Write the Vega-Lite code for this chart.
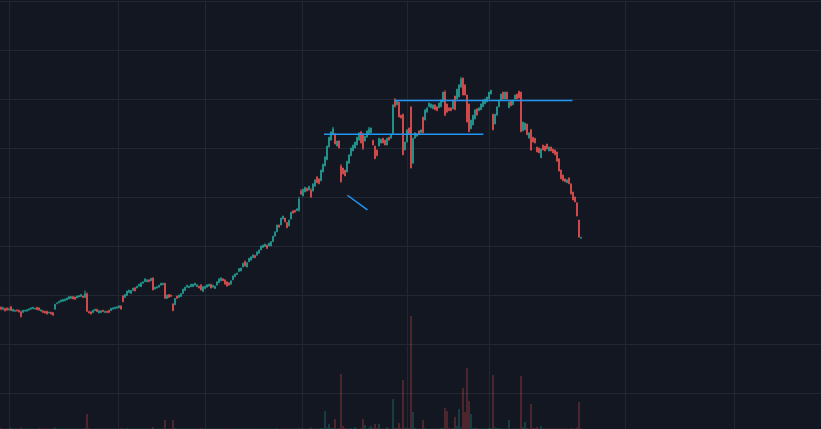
{
  "$schema": "https://vega.github.io/schema/vega-lite/v6.json",
  "width": 821,
  "height": 429,
  "autosize": {"type": "fit", "contains": "padding"},
  "padding": 0,
  "background": "#131722",
  "config": {
    "view": {"stroke": null},
    "scale": {"continuousPadding": 0},
    "axis": {"gridColor": "#232733", "gridWidth": 1, "labels": false, "ticks": false, "domain": false, "title": null}
  },
  "datasets": {
    "candles": [
      {"i":0,"o":27.5,"h":27.7,"l":26.9,"c":27.1,"v":2},
      {"i":1,"o":27.1,"h":27.6,"l":26.9,"c":27.4,"v":1},
      {"i":2,"o":27.2,"h":27.4,"l":26.6,"c":26.8,"v":1},
      {"i":3,"o":27.3,"h":27.5,"l":26.8,"c":26.9,"v":1},
      {"i":4,"o":27.0,"h":27.4,"l":26.8,"c":27.2,"v":1},
      {"i":5,"o":27.6,"h":27.8,"l":26.7,"c":26.8,"v":2},
      {"i":6,"o":26.7,"h":27.2,"l":26.6,"c":27.1,"v":1},
      {"i":7,"o":26.7,"h":27.0,"l":26.5,"c":26.9,"v":1},
      {"i":8,"o":26.9,"h":27.1,"l":26.6,"c":26.7,"v":1},
      {"i":9,"o":26.9,"h":27.0,"l":26.4,"c":26.6,"v":1},
      {"i":10,"o":26.6,"h":26.8,"l":25.4,"c":25.6,"v":3},
      {"i":11,"o":26.5,"h":27.0,"l":26.3,"c":26.9,"v":1},
      {"i":12,"o":26.7,"h":27.0,"l":26.6,"c":26.9,"v":1},
      {"i":13,"o":26.7,"h":27.1,"l":26.6,"c":27.0,"v":1},
      {"i":14,"o":26.9,"h":27.3,"l":26.8,"c":27.2,"v":1},
      {"i":15,"o":27.1,"h":27.5,"l":27.0,"c":27.4,"v":1},
      {"i":16,"o":27.2,"h":27.6,"l":27.1,"c":27.5,"v":1},
      {"i":17,"o":27.1,"h":27.4,"l":27.0,"c":27.3,"v":1},
      {"i":18,"o":27.5,"h":27.6,"l":26.9,"c":27.0,"v":1},
      {"i":19,"o":27.4,"h":27.5,"l":26.8,"c":26.9,"v":2},
      {"i":20,"o":26.7,"h":27.1,"l":26.6,"c":27.0,"v":1},
      {"i":21,"o":26.8,"h":26.9,"l":26.3,"c":26.4,"v":1},
      {"i":22,"o":26.7,"h":26.8,"l":26.2,"c":26.3,"v":1},
      {"i":23,"o":26.7,"h":26.8,"l":26.0,"c":26.1,"v":1},
      {"i":24,"o":26.3,"h":26.6,"l":26.2,"c":26.5,"v":1},
      {"i":25,"o":26.5,"h":26.6,"l":26.0,"c":26.1,"v":1},
      {"i":26,"o":26.4,"h":26.5,"l":25.7,"c":25.9,"v":2},
      {"i":27,"o":27.1,"h":28.2,"l":27.0,"c":28.1,"v":3},
      {"i":28,"o":28.2,"h":28.5,"l":28.1,"c":28.4,"v":1},
      {"i":29,"o":28.4,"h":28.8,"l":28.3,"c":28.7,"v":1},
      {"i":30,"o":28.6,"h":29.1,"l":28.5,"c":29.0,"v":1},
      {"i":31,"o":28.7,"h":29.2,"l":28.6,"c":29.1,"v":1},
      {"i":32,"o":28.8,"h":29.3,"l":28.7,"c":29.2,"v":1},
      {"i":33,"o":29.0,"h":29.5,"l":28.9,"c":29.4,"v":1},
      {"i":34,"o":29.2,"h":29.8,"l":29.1,"c":29.7,"v":1},
      {"i":35,"o":29.3,"h":29.8,"l":29.2,"c":29.7,"v":1},
      {"i":36,"o":29.7,"h":29.8,"l":29.1,"c":29.2,"v":1},
      {"i":37,"o":29.6,"h":29.7,"l":29.0,"c":29.1,"v":1},
      {"i":38,"o":29.4,"h":29.9,"l":29.3,"c":29.8,"v":1},
      {"i":39,"o":29.6,"h":30.0,"l":29.5,"c":29.9,"v":1},
      {"i":40,"o":29.7,"h":30.2,"l":29.6,"c":30.1,"v":1},
      {"i":41,"o":29.8,"h":29.9,"l":29.4,"c":29.5,"v":1},
      {"i":42,"o":29.5,"h":30.9,"l":29.4,"c":30.3,"v":2},
      {"i":43,"o":30.3,"h":30.5,"l":26.5,"c":26.7,"v":30},
      {"i":44,"o":26.6,"h":26.8,"l":26.2,"c":26.3,"v":2},
      {"i":45,"o":26.6,"h":26.7,"l":26.0,"c":26.1,"v":1},
      {"i":46,"o":26.4,"h":27.0,"l":26.3,"c":26.9,"v":1},
      {"i":47,"o":26.8,"h":27.2,"l":26.7,"c":27.1,"v":1},
      {"i":48,"o":27.1,"h":27.2,"l":26.5,"c":26.6,"v":1},
      {"i":49,"o":26.3,"h":26.9,"l":26.2,"c":26.8,"v":1},
      {"i":50,"o":26.4,"h":26.9,"l":26.3,"c":26.8,"v":1},
      {"i":51,"o":26.9,"h":27.0,"l":26.5,"c":26.6,"v":1},
      {"i":52,"o":26.4,"h":26.8,"l":26.3,"c":26.7,"v":1},
      {"i":53,"o":26.7,"h":26.8,"l":26.3,"c":26.4,"v":1},
      {"i":54,"o":26.9,"h":27.0,"l":26.3,"c":26.4,"v":1},
      {"i":55,"o":26.8,"h":27.4,"l":26.7,"c":27.3,"v":1},
      {"i":56,"o":27.1,"h":27.5,"l":27.0,"c":27.4,"v":1},
      {"i":57,"o":27.2,"h":27.6,"l":27.1,"c":27.5,"v":1},
      {"i":58,"o":27.3,"h":27.7,"l":27.2,"c":27.6,"v":1},
      {"i":59,"o":27.4,"h":27.9,"l":27.3,"c":27.8,"v":1},
      {"i":60,"o":27.8,"h":27.9,"l":27.0,"c":27.1,"v":2},
      {"i":61,"o":29.8,"h":30.0,"l":28.5,"c":28.6,"v":2},
      {"i":62,"o":29.5,"h":30.2,"l":29.4,"c":30.1,"v":1},
      {"i":63,"o":29.9,"h":30.9,"l":29.8,"c":30.8,"v":2},
      {"i":64,"o":30.5,"h":31.1,"l":30.4,"c":31.0,"v":1},
      {"i":65,"o":30.3,"h":31.0,"l":30.2,"c":30.9,"v":1},
      {"i":66,"o":30.9,"h":31.5,"l":30.8,"c":31.4,"v":1},
      {"i":67,"o":31.5,"h":31.6,"l":30.7,"c":30.8,"v":1},
      {"i":68,"o":31.4,"h":31.9,"l":31.3,"c":31.8,"v":1},
      {"i":69,"o":31.8,"h":32.3,"l":31.7,"c":32.2,"v":1},
      {"i":70,"o":31.7,"h":32.6,"l":31.6,"c":32.5,"v":1},
      {"i":71,"o":32.4,"h":32.8,"l":32.3,"c":32.7,"v":1},
      {"i":72,"o":32.7,"h":33.4,"l":32.6,"c":33.3,"v":1},
      {"i":73,"o":32.7,"h":33.2,"l":32.6,"c":33.1,"v":1},
      {"i":74,"o":33.1,"h":33.2,"l":32.6,"c":32.7,"v":1},
      {"i":75,"o":32.9,"h":33.5,"l":32.8,"c":33.4,"v":1},
      {"i":76,"o":33.5,"h":33.6,"l":30.9,"c":31.0,"v":4},
      {"i":77,"o":31.2,"h":31.7,"l":31.1,"c":31.6,"v":1},
      {"i":78,"o":31.4,"h":31.8,"l":31.3,"c":31.7,"v":1},
      {"i":79,"o":31.6,"h":32.1,"l":31.5,"c":32.0,"v":1},
      {"i":80,"o":32.0,"h":32.5,"l":31.9,"c":32.4,"v":1},
      {"i":81,"o":32.1,"h":32.5,"l":32.0,"c":32.4,"v":1},
      {"i":82,"o":32.4,"h":32.5,"l":29.2,"c":29.3,"v":18},
      {"i":83,"o":29.3,"h":30.1,"l":29.2,"c":30.0,"v":1},
      {"i":84,"o":30.1,"h":30.2,"l":29.4,"c":29.5,"v":1},
      {"i":85,"o":30.0,"h":30.1,"l":29.6,"c":29.7,"v":1},
      {"i":86,"o":28.2,"h":28.3,"l":26.7,"c":26.8,"v":18},
      {"i":87,"o":28.0,"h":29.4,"l":27.9,"c":29.3,"v":2},
      {"i":88,"o":29.8,"h":29.9,"l":29.2,"c":29.3,"v":1},
      {"i":89,"o":29.5,"h":30.1,"l":29.4,"c":30.0,"v":1},
      {"i":90,"o":29.7,"h":30.4,"l":29.6,"c":30.3,"v":1},
      {"i":91,"o":30.3,"h":31.3,"l":30.2,"c":31.2,"v":1},
      {"i":92,"o":30.9,"h":31.7,"l":30.8,"c":31.6,"v":1},
      {"i":93,"o":31.6,"h":32.1,"l":31.5,"c":32.0,"v":1},
      {"i":94,"o":31.5,"h":31.9,"l":31.4,"c":31.8,"v":1},
      {"i":95,"o":31.7,"h":32.3,"l":31.6,"c":32.2,"v":1},
      {"i":96,"o":31.7,"h":32.3,"l":31.6,"c":32.2,"v":1},
      {"i":97,"o":32.0,"h":32.5,"l":31.9,"c":32.4,"v":1},
      {"i":98,"o":31.7,"h":32.2,"l":31.6,"c":32.1,"v":1},
      {"i":99,"o":31.8,"h":31.9,"l":31.3,"c":31.4,"v":1},
      {"i":100,"o":32.1,"h":32.2,"l":30.9,"c":31.0,"v":2},
      {"i":101,"o":30.7,"h":31.8,"l":30.6,"c":31.7,"v":1},
      {"i":102,"o":31.3,"h":31.9,"l":31.2,"c":31.8,"v":1},
      {"i":103,"o":31.6,"h":32.2,"l":31.5,"c":32.1,"v":1},
      {"i":104,"o":31.8,"h":32.3,"l":31.7,"c":32.2,"v":1},
      {"i":105,"o":32.2,"h":32.3,"l":31.3,"c":31.4,"v":1},
      {"i":106,"o":31.6,"h":32.1,"l":31.5,"c":32.0,"v":1},
      {"i":107,"o":31.3,"h":31.9,"l":31.2,"c":31.8,"v":1},
      {"i":108,"o":32.0,"h":32.8,"l":31.9,"c":32.7,"v":1},
      {"i":109,"o":32.5,"h":33.4,"l":32.4,"c":33.3,"v":1},
      {"i":110,"o":32.9,"h":33.6,"l":32.8,"c":33.5,"v":1},
      {"i":111,"o":33.3,"h":33.4,"l":32.8,"c":32.9,"v":1},
      {"i":112,"o":33.1,"h":33.2,"l":32.1,"c":32.2,"v":1},
      {"i":113,"o":32.7,"h":32.8,"l":31.7,"c":31.8,"v":1},
      {"i":114,"o":32.5,"h":32.6,"l":31.9,"c":32.0,"v":1},
      {"i":115,"o":32.2,"h":33.0,"l":32.1,"c":32.9,"v":1},
      {"i":116,"o":33.1,"h":34.0,"l":33.0,"c":33.9,"v":1},
      {"i":117,"o":33.7,"h":34.4,"l":33.6,"c":34.3,"v":1},
      {"i":118,"o":34.2,"h":34.6,"l":34.1,"c":34.5,"v":1},
      {"i":119,"o":34.8,"h":35.5,"l":34.7,"c":35.4,"v":1},
      {"i":120,"o":34.9,"h":35.6,"l":34.8,"c":35.5,"v":1},
      {"i":121,"o":35.7,"h":36.6,"l":35.6,"c":36.5,"v":1},
      {"i":122,"o":36.9,"h":37.0,"l":35.8,"c":35.9,"v":1},
      {"i":123,"o":35.7,"h":36.7,"l":35.6,"c":36.6,"v":1},
      {"i":124,"o":36.8,"h":37.6,"l":36.7,"c":37.5,"v":1},
      {"i":125,"o":37.1,"h":37.9,"l":37.0,"c":37.8,"v":1},
      {"i":126,"o":37.6,"h":38.3,"l":37.5,"c":38.2,"v":1},
      {"i":127,"o":38.1,"h":38.2,"l":37.5,"c":37.6,"v":1},
      {"i":128,"o":38.1,"h":38.9,"l":38.0,"c":38.8,"v":1},
      {"i":129,"o":38.5,"h":39.3,"l":38.4,"c":39.2,"v":1},
      {"i":130,"o":39.2,"h":40.1,"l":39.1,"c":40.0,"v":1},
      {"i":131,"o":39.7,"h":40.3,"l":39.6,"c":40.2,"v":1},
      {"i":132,"o":39.9,"h":40.5,"l":39.8,"c":40.4,"v":1},
      {"i":133,"o":40.2,"h":40.3,"l":39.4,"c":39.5,"v":1},
      {"i":134,"o":40.0,"h":40.7,"l":39.9,"c":40.6,"v":1},
      {"i":135,"o":40.0,"h":41.0,"l":39.9,"c":40.9,"v":1},
      {"i":136,"o":40.9,"h":42.1,"l":40.8,"c":42.0,"v":1},
      {"i":137,"o":42.0,"h":43.0,"l":41.9,"c":42.9,"v":1},
      {"i":138,"o":42.9,"h":44.4,"l":42.8,"c":44.3,"v":2},
      {"i":139,"o":44.3,"h":44.4,"l":43.7,"c":43.8,"v":1},
      {"i":140,"o":44.3,"h":45.8,"l":44.2,"c":45.7,"v":1},
      {"i":141,"o":45.5,"h":46.2,"l":45.4,"c":46.1,"v":1},
      {"i":142,"o":45.7,"h":45.8,"l":44.8,"c":44.9,"v":1},
      {"i":143,"o":44.8,"h":44.9,"l":43.6,"c":43.7,"v":1},
      {"i":144,"o":44.1,"h":45.4,"l":44.0,"c":45.3,"v":1},
      {"i":145,"o":45.5,"h":47.0,"l":45.4,"c":46.9,"v":1},
      {"i":146,"o":47.2,"h":47.3,"l":46.6,"c":46.7,"v":1},
      {"i":147,"o":47.3,"h":47.4,"l":46.8,"c":46.9,"v":1},
      {"i":148,"o":47.2,"h":47.7,"l":47.1,"c":47.6,"v":1},
      {"i":149,"o":47.3,"h":50.0,"l":47.0,"c":49.6,"v":2},
      {"i":150,"o":51.2,"h":51.6,"l":50.4,"c":50.6,"v":1},
      {"i":151,"o":50.2,"h":51.7,"l":50.1,"c":51.6,"v":1},
      {"i":152,"o":51.0,"h":52.1,"l":50.9,"c":52.0,"v":1},
      {"i":153,"o":51.8,"h":51.9,"l":51.1,"c":51.2,"v":1},
      {"i":154,"o":51.4,"h":52.3,"l":51.3,"c":52.2,"v":1},
      {"i":155,"o":51.4,"h":51.8,"l":49.8,"c":50.0,"v":3},
      {"i":156,"o":51.2,"h":52.8,"l":51.1,"c":52.7,"v":1},
      {"i":157,"o":52.2,"h":53.6,"l":52.1,"c":53.5,"v":1},
      {"i":158,"o":54.1,"h":54.3,"l":52.8,"c":52.9,"v":1},
      {"i":159,"o":53.7,"h":53.8,"l":52.6,"c":52.7,"v":1},
      {"i":160,"o":53.3,"h":55.6,"l":53.2,"c":55.5,"v":2},
      {"i":161,"o":55.1,"h":56.8,"l":55.0,"c":56.7,"v":2},
      {"i":162,"o":56.3,"h":58.3,"l":56.2,"c":58.2,"v":36},
      {"i":163,"o":57.6,"h":60.5,"l":57.5,"c":60.4,"v":3},
      {"i":164,"o":60.2,"h":62.3,"l":60.1,"c":62.2,"v":10},
      {"i":165,"o":61.6,"h":63.4,"l":61.5,"c":63.3,"v":2},
      {"i":166,"o":62.7,"h":64.3,"l":62.6,"c":63.9,"v":2},
      {"i":167,"o":62.9,"h":63.0,"l":60.7,"c":60.8,"v":20},
      {"i":168,"o":60.4,"h":61.5,"l":60.3,"c":61.4,"v":1},
      {"i":169,"o":61.4,"h":61.6,"l":59.9,"c":60.0,"v":2},
      {"i":170,"o":56.3,"h":56.7,"l":52.9,"c":53.1,"v":110},
      {"i":171,"o":55.9,"h":56.0,"l":54.6,"c":54.7,"v":6},
      {"i":172,"o":55.5,"h":55.6,"l":54.2,"c":54.3,"v":2},
      {"i":173,"o":55.1,"h":57.4,"l":55.0,"c":57.3,"v":1},
      {"i":174,"o":56.9,"h":58.7,"l":56.8,"c":58.6,"v":1},
      {"i":175,"o":58.4,"h":60.1,"l":58.3,"c":60.0,"v":2},
      {"i":176,"o":59.4,"h":60.7,"l":59.3,"c":60.6,"v":1},
      {"i":177,"o":60.0,"h":61.3,"l":59.9,"c":61.2,"v":4},
      {"i":178,"o":60.6,"h":62.3,"l":60.5,"c":62.2,"v":1},
      {"i":179,"o":61.6,"h":63.2,"l":61.5,"c":63.1,"v":1},
      {"i":180,"o":63.3,"h":63.5,"l":60.9,"c":61.0,"v":2},
      {"i":181,"o":62.7,"h":63.1,"l":59.6,"c":60.0,"v":20},
      {"i":182,"o":61.4,"h":62.5,"l":61.3,"c":62.4,"v":8},
      {"i":183,"o":62.2,"h":63.6,"l":62.1,"c":63.5,"v":1},
      {"i":184,"o":62.9,"h":64.3,"l":62.8,"c":63.9,"v":3},
      {"i":185,"o":63.1,"h":64.2,"l":63.0,"c":64.1,"v":6},
      {"i":186,"o":61.6,"h":61.7,"l":60.5,"c":60.6,"v":2},
      {"i":187,"o":60.4,"h":60.5,"l":57.7,"c":57.8,"v":10},
      {"i":188,"o":59.6,"h":59.7,"l":58.3,"c":58.4,"v":2},
      {"i":189,"o":60.4,"h":62.1,"l":60.3,"c":62.0,"v":10},
      {"i":190,"o":61.0,"h":61.9,"l":60.9,"c":61.8,"v":1},
      {"i":191,"o":62.0,"h":62.1,"l":60.9,"c":61.0,"v":1},
      {"i":192,"o":61.6,"h":61.7,"l":60.5,"c":60.6,"v":1},
      {"i":193,"o":60.6,"h":62.1,"l":60.5,"c":62.0,"v":4},
      {"i":194,"o":62.2,"h":62.3,"l":61.5,"c":61.6,"v":1},
      {"i":195,"o":62.0,"h":62.8,"l":61.9,"c":62.7,"v":1},
      {"i":196,"o":62.9,"h":68.9,"l":62.8,"c":68.8,"v":60},
      {"i":197,"o":69.8,"h":70.2,"l":68.3,"c":68.4,"v":2},
      {"i":198,"o":68.8,"h":69.7,"l":68.7,"c":69.6,"v":2},
      {"i":199,"o":69.4,"h":69.5,"l":66.2,"c":66.3,"v":12},
      {"i":200,"o":66.7,"h":66.8,"l":66.0,"c":66.1,"v":2},
      {"i":201,"o":66.9,"h":67.0,"l":58.5,"c":58.6,"v":98},
      {"i":202,"o":59.6,"h":61.3,"l":59.5,"c":61.2,"v":3},
      {"i":203,"o":61.2,"h":63.8,"l":61.1,"c":63.7,"v":2},
      {"i":204,"o":64.1,"h":64.2,"l":62.8,"c":62.9,"v":2},
      {"i":205,"o":68.4,"h":68.5,"l":55.8,"c":55.9,"v":226},
      {"i":206,"o":56.9,"h":62.1,"l":56.8,"c":62.0,"v":34},
      {"i":207,"o":62.0,"h":63.2,"l":61.9,"c":63.1,"v":2},
      {"i":208,"o":62.4,"h":63.0,"l":62.3,"c":62.9,"v":1},
      {"i":209,"o":63.5,"h":63.6,"l":62.6,"c":62.7,"v":1},
      {"i":210,"o":63.1,"h":63.8,"l":63.0,"c":63.7,"v":1},
      {"i":211,"o":66.3,"h":66.4,"l":63.0,"c":63.1,"v":18},
      {"i":212,"o":65.7,"h":67.9,"l":65.6,"c":67.8,"v":2},
      {"i":213,"o":67.3,"h":68.3,"l":67.2,"c":68.2,"v":1},
      {"i":214,"o":68.4,"h":69.3,"l":68.3,"c":69.2,"v":1},
      {"i":215,"o":68.2,"h":69.1,"l":68.1,"c":69.0,"v":1},
      {"i":216,"o":68.0,"h":68.9,"l":67.9,"c":68.8,"v":1},
      {"i":217,"o":68.8,"h":68.9,"l":67.7,"c":67.8,"v":1},
      {"i":218,"o":68.4,"h":68.5,"l":67.5,"c":67.6,"v":1},
      {"i":219,"o":68.2,"h":69.3,"l":68.1,"c":69.2,"v":1},
      {"i":220,"o":68.4,"h":69.9,"l":68.3,"c":69.8,"v":2},
      {"i":221,"o":69.4,"h":71.5,"l":69.3,"c":71.4,"v":2},
      {"i":222,"o":71.4,"h":71.8,"l":66.5,"c":66.7,"v":42},
      {"i":223,"o":69.0,"h":69.1,"l":67.2,"c":67.3,"v":36},
      {"i":224,"o":68.2,"h":68.3,"l":67.5,"c":67.6,"v":2},
      {"i":225,"o":68.2,"h":68.3,"l":67.5,"c":67.6,"v":1},
      {"i":226,"o":68.0,"h":69.9,"l":67.9,"c":69.8,"v":2},
      {"i":227,"o":70.6,"h":70.7,"l":67.7,"c":67.8,"v":24},
      {"i":228,"o":70.0,"h":72.1,"l":69.9,"c":72.0,"v":6},
      {"i":229,"o":70.4,"h":73.0,"l":70.3,"c":72.9,"v":40},
      {"i":230,"o":72.4,"h":74.5,"l":72.3,"c":74.1,"v":3},
      {"i":231,"o":74.3,"h":74.4,"l":70.7,"c":70.8,"v":82},
      {"i":232,"o":72.9,"h":73.0,"l":70.7,"c":70.8,"v":34},
      {"i":233,"o":70.8,"h":70.9,"l":65.2,"c":65.3,"v":122},
      {"i":234,"o":69.0,"h":69.1,"l":63.2,"c":63.3,"v":56},
      {"i":235,"o":63.9,"h":65.8,"l":63.8,"c":65.7,"v":30},
      {"i":236,"o":64.7,"h":66.8,"l":64.6,"c":66.7,"v":2},
      {"i":237,"o":65.9,"h":67.9,"l":65.8,"c":67.8,"v":2},
      {"i":238,"o":68.0,"h":68.1,"l":66.6,"c":66.7,"v":2},
      {"i":239,"o":67.6,"h":68.3,"l":67.5,"c":68.2,"v":1},
      {"i":240,"o":67.8,"h":69.1,"l":67.7,"c":69.0,"v":1},
      {"i":241,"o":68.4,"h":69.9,"l":68.3,"c":69.8,"v":1},
      {"i":242,"o":69.0,"h":70.1,"l":68.9,"c":70.0,"v":1},
      {"i":243,"o":69.4,"h":70.5,"l":69.3,"c":70.4,"v":1},
      {"i":244,"o":70.0,"h":71.5,"l":69.9,"c":71.4,"v":2},
      {"i":245,"o":71.0,"h":71.9,"l":70.9,"c":71.8,"v":2},
      {"i":246,"o":66.9,"h":67.0,"l":63.6,"c":63.7,"v":108},
      {"i":247,"o":64.9,"h":67.0,"l":64.8,"c":66.9,"v":3},
      {"i":248,"o":66.7,"h":68.5,"l":66.6,"c":68.4,"v":2},
      {"i":249,"o":68.4,"h":69.9,"l":68.3,"c":69.8,"v":2},
      {"i":250,"o":69.8,"h":71.1,"l":69.7,"c":71.0,"v":1},
      {"i":251,"o":71.4,"h":71.5,"l":69.9,"c":70.0,"v":1},
      {"i":252,"o":70.0,"h":71.5,"l":69.9,"c":71.4,"v":1},
      {"i":253,"o":71.4,"h":71.5,"l":69.9,"c":70.0,"v":1},
      {"i":254,"o":68.2,"h":69.5,"l":68.1,"c":69.4,"v":18},
      {"i":255,"o":69.6,"h":69.7,"l":68.5,"c":68.6,"v":1},
      {"i":256,"o":68.8,"h":69.9,"l":68.7,"c":69.8,"v":1},
      {"i":257,"o":70.0,"h":70.9,"l":69.9,"c":70.8,"v":1},
      {"i":258,"o":71.0,"h":71.1,"l":69.9,"c":70.0,"v":1},
      {"i":259,"o":71.6,"h":71.7,"l":70.1,"c":70.2,"v":1},
      {"i":260,"o":71.4,"h":71.5,"l":63.2,"c":63.3,"v":106},
      {"i":261,"o":63.5,"h":65.4,"l":63.4,"c":65.3,"v":4},
      {"i":262,"o":63.7,"h":65.2,"l":63.6,"c":65.1,"v":14},
      {"i":263,"o":64.9,"h":65.0,"l":62.6,"c":62.7,"v":2},
      {"i":264,"o":62.0,"h":63.2,"l":61.9,"c":63.1,"v":1},
      {"i":265,"o":63.7,"h":63.9,"l":59.4,"c":59.6,"v":50},
      {"i":266,"o":62.2,"h":62.3,"l":61.1,"c":61.2,"v":2},
      {"i":267,"o":62.0,"h":62.1,"l":60.9,"c":61.0,"v":2},
      {"i":268,"o":60.2,"h":60.3,"l":59.1,"c":59.2,"v":4},
      {"i":269,"o":60.0,"h":60.1,"l":58.9,"c":59.0,"v":1},
      {"i":270,"o":58.0,"h":59.9,"l":57.9,"c":59.8,"v":6},
      {"i":271,"o":60.6,"h":60.7,"l":59.5,"c":59.6,"v":1},
      {"i":272,"o":60.4,"h":60.5,"l":59.3,"c":59.4,"v":1},
      {"i":273,"o":60.8,"h":60.9,"l":59.7,"c":59.8,"v":1},
      {"i":274,"o":59.4,"h":60.3,"l":59.3,"c":60.2,"v":1},
      {"i":275,"o":60.2,"h":60.3,"l":59.3,"c":59.4,"v":1},
      {"i":276,"o":59.8,"h":59.9,"l":58.9,"c":59.0,"v":1},
      {"i":277,"o":59.6,"h":59.7,"l":58.5,"c":58.6,"v":1},
      {"i":278,"o":59.2,"h":59.3,"l":57.2,"c":57.3,"v":1},
      {"i":279,"o":57.8,"h":57.9,"l":55.2,"c":55.3,"v":1},
      {"i":280,"o":55.5,"h":55.6,"l":53.6,"c":53.7,"v":1},
      {"i":281,"o":54.5,"h":54.6,"l":53.2,"c":53.3,"v":1},
      {"i":282,"o":53.7,"h":53.8,"l":53.0,"c":53.1,"v":1},
      {"i":283,"o":52.9,"h":53.6,"l":52.8,"c":53.5,"v":1},
      {"i":284,"o":53.9,"h":54.0,"l":52.6,"c":52.7,"v":1},
      {"i":285,"o":52.7,"h":52.8,"l":50.5,"c":50.6,"v":2},
      {"i":286,"o":51.0,"h":51.1,"l":49.3,"c":49.4,"v":1},
      {"i":287,"o":50.0,"h":50.1,"l":48.9,"c":49.0,"v":1},
      {"i":288,"o":48.8,"h":48.9,"l":46.0,"c":46.1,"v":3},
      {"i":289,"o":45.3,"h":45.4,"l":41.7,"c":41.8,"v":54},
      {"i":290,"o":41.6,"h":41.9,"l":41.5,"c":41.8,"v":1}
    ],
    "lines": [
      {"id":"a","i":161.5,"p":62.8},
      {"id":"a","i":241.2,"p":62.8},
      {"id":"b","i":196.7,"p":69.7},
      {"id":"b","i":285.7,"p":69.7},
      {"id":"c","i":173.2,"p":50.35},
      {"id":"c","i":183.2,"p":47.35}
    ]
  },
  "layer": [
    {
      "data": {"name": "candles"},
      "mark": {"type": "bar", "width": 1.2, "opacity": 0.45},
      "encoding": {
        "x": {"field": "i", "type": "quantitative", "scale": {"domain": [-0.5, 410], "nice": false, "zero": false, "padding": 0}, "axis": {"values": [4, 58.5, 102, 150.5, 203, 244, 312, 366.5], "grid": true}},
        "y": {"field": "v", "type": "quantitative", "scale": {"domain": [0, 858], "nice": false, "zero": true}, "axis": null},
        "color": {"condition": {"test": "datum.c >= datum.o", "value": "#26a69a"}, "value": "#ef5350"}
      }
    },
    {
      "layer": [
        {
          "data": {"name": "candles"},
          "mark": {"type": "rule", "strokeWidth": 1},
          "encoding": {
            "x": {"field": "i", "type": "quantitative", "scale": {"domain": [-0.5, 410], "nice": false, "zero": false, "padding": 0}, "axis": {"values": [4, 58.5, 102, 150.5, 203, 244, 312, 366.5], "grid": true}},
            "y": {"field": "l", "type": "quantitative", "scale": {"domain": [2.65, 90.2], "nice": false, "zero": false}, "axis": {"values": [10, 20, 30, 40, 50, 60, 70, 80, 90], "grid": true}},
            "y2": {"field": "h"},
            "color": {"condition": {"test": "datum.c >= datum.o", "value": "#26a69a"}, "value": "#ef5350"}
          }
        },
        {
          "data": {"name": "candles"},
          "mark": {"type": "bar", "width": 1.4},
          "encoding": {
            "x": {"field": "i", "type": "quantitative", "scale": {"domain": [-0.5, 410], "nice": false, "zero": false, "padding": 0}, "axis": {"values": [4, 58.5, 102, 150.5, 203, 244, 312, 366.5], "grid": true}},
            "y": {"field": "o", "type": "quantitative", "scale": {"domain": [2.65, 90.2], "nice": false, "zero": false}, "axis": {"values": [10, 20, 30, 40, 50, 60, 70, 80, 90], "grid": true}},
            "y2": {"field": "c"},
            "color": {"condition": {"test": "datum.c >= datum.o", "value": "#26a69a"}, "value": "#ef5350"}
          }
        },
        {
          "data": {"name": "lines"},
          "mark": {"type": "line", "strokeWidth": 1.5, "color": "#2196f3"},
          "encoding": {
            "x": {"field": "i", "type": "quantitative", "scale": {"domain": [-0.5, 410], "nice": false, "zero": false, "padding": 0}, "axis": {"values": [4, 58.5, 102, 150.5, 203, 244, 312, 366.5], "grid": true}},
            "y": {"field": "p", "type": "quantitative", "scale": {"domain": [2.65, 90.2], "nice": false, "zero": false}, "axis": {"values": [10, 20, 30, 40, 50, 60, 70, 80, 90], "grid": true}},
            "detail": {"field": "id", "type": "nominal"}
          }
        }
      ]
    }
  ],
  "resolve": {"scale": {"y": "independent"}}
}
